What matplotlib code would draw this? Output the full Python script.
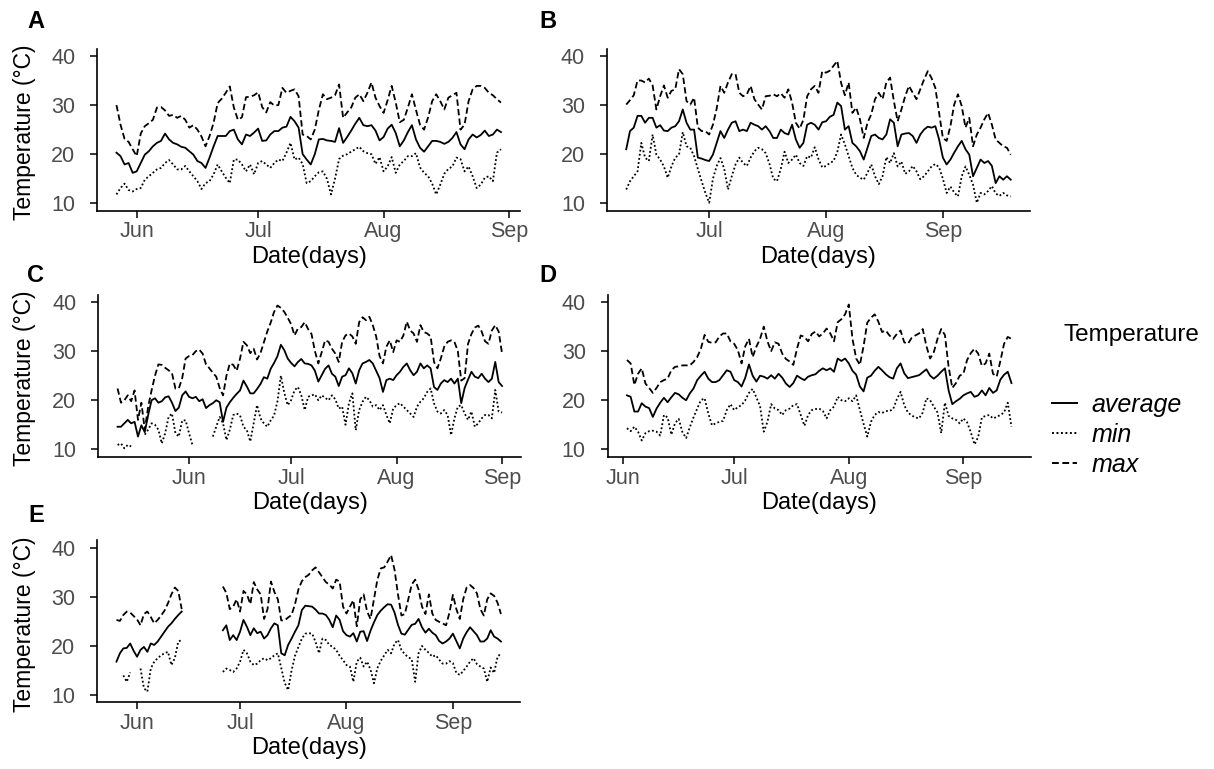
import numpy as np
import pandas as pd
import matplotlib
matplotlib.use('Agg')
import matplotlib.pyplot as plt
import matplotlib.dates as mdates
from matplotlib.lines import Line2D

plt.rcParams['font.family'] = ['Liberation Sans', 'DejaVu Sans']

nan = np.nan

# ---- panel A (daily, from 27 May) ----
a_start = '2021-05-27'
a_avg = [20.3, 19.6, 17.9, 18.2, 16.2, 16.5, 18.2, 19.9, 20.6, 21.6,
         22.3, 22.7, 24.2, 23.0, 22.3, 22.0, 21.5, 21.3, 20.6, 19.9,
         18.6, 18.2, 17.2, 19.3, 21.6, 23.7, 23.7, 23.7, 24.7, 25.0,
         23.0, 22.0, 24.0, 23.7, 24.4, 25.2, 22.7, 22.8, 24.0, 24.7,
         24.7, 25.4, 25.6, 27.6, 26.7, 25.4,
         20.0, 18.9, 17.9, 20.0, 23.0, 23.1, 22.8, 22.7, 22.5, 25.3,
         22.3, 23.5, 24.8, 26.2, 27.4, 25.9, 25.7, 25.9, 24.8, 22.8,
         23.5, 25.2, 26.0, 24.3, 21.6, 22.8, 24.5, 25.9, 23.0, 21.3,
         20.5, 21.6, 22.7, 22.7, 22.5, 22.1, 22.5, 23.3, 24.5, 22.0,
         21.0, 23.0, 24.0, 23.4, 23.9, 24.8, 23.7, 24.0, 25.0, 24.5]
a_min = [11.8, 13.1, 14.0, 12.7, 12.4, 12.9, 13.1, 14.8, 15.5, 16.2,
         16.9, 17.2, 18.2, 18.8, 17.9, 16.9, 16.9, 17.6, 16.5, 15.5,
         14.5, 12.9, 14.1, 14.5, 15.9, 17.9, 16.5, 15.2, 14.1, 18.9,
         18.9, 17.9, 16.5, 17.9, 15.9, 18.2, 18.6, 17.9, 17.2, 18.2,
         18.9, 18.6, 20.3, 22.3, 18.9, 19.3,
         18.0, 14.1, 14.5, 15.5, 16.3, 16.5, 15.0, 11.8, 15.0, 19.0,
         19.7, 20.0, 20.5, 21.0, 21.5, 20.6, 20.2, 20.0, 18.0, 19.4,
         16.5, 17.5, 19.4, 16.2, 17.9, 18.6, 19.6, 19.6, 20.2, 17.3,
         16.2, 15.5, 14.0, 11.8, 13.8, 16.0, 17.0, 17.5, 19.3, 19.0,
         16.5, 17.5, 15.5, 13.1, 13.8, 15.2, 15.5, 14.5, 20.3, 21.0]
a_max = [30.0, 26.0, 23.1, 22.5, 21.0, 19.6, 24.2, 25.7, 26.3, 27.0,
         29.5, 29.6, 28.9, 27.8, 28.0, 27.4, 27.8, 27.0, 25.4, 25.9,
         25.0, 23.6, 21.6, 23.7, 26.4, 30.4, 31.3, 32.5, 33.8, 29.5,
         27.0, 27.5, 31.6, 31.7, 32.0, 32.6, 29.6, 28.5, 30.6, 29.9,
         30.0, 33.5, 32.5, 32.9, 33.2, 31.8,
         24.0, 23.7, 23.0, 25.0, 29.0, 32.2, 31.2, 31.5, 32.0, 34.2,
         27.4, 28.5, 29.5, 31.5, 32.2, 30.8, 32.5, 34.6, 31.5, 29.8,
         28.4, 31.0, 33.9, 30.5, 26.5, 27.0, 29.5, 32.2, 29.0, 26.0,
         25.0, 27.5, 30.8, 32.2, 30.8, 29.1, 31.5, 32.0, 32.5, 25.0,
         26.0, 30.8, 33.2, 33.9, 33.9, 33.5, 32.5, 32.0, 31.2, 30.5]

# ---- panel B (daily, from 9 June) ----
b_start = '2021-06-09'
b_avg = [21.0, 24.7, 25.4, 27.8, 27.8, 26.4, 27.4, 27.4, 25.4, 25.9,
         24.8, 24.7, 25.4, 25.7, 26.7, 29.1, 26.4, 25.0, 25.0, 19.3,
         19.1, 18.8, 18.6, 19.9, 22.3, 24.7, 23.3, 25.0, 26.4, 26.7,
         24.7, 25.0, 24.7, 26.4, 26.0, 25.7, 25.0, 25.7, 24.7, 23.3,
         23.3, 25.0, 24.3, 24.0, 26.0, 23.0, 21.3, 22.3,
         26.0, 26.4, 26.0, 25.0, 26.5, 26.7, 27.6, 28.0, 30.5, 29.8,
         25.0, 25.7, 22.3, 21.6, 20.6, 18.9, 21.3, 23.7, 24.0, 23.3,
         23.0, 24.0, 27.1, 26.4, 21.6, 24.0, 24.2, 24.3, 23.7, 22.3,
         24.0, 25.0, 25.6, 25.4, 25.7, 23.0, 19.3, 17.9, 18.9, 20.3,
         21.6, 22.7, 21.0, 19.9, 15.5, 17.2, 18.9, 18.2, 18.6, 17.6,
         14.1, 15.5, 14.8, 15.5, 14.8]
b_min = [12.8, 14.5, 15.5, 16.5, 22.3, 19.3, 18.6, 24.0, 19.9, 18.9,
         17.5, 15.2, 17.5, 19.3, 19.9, 24.5, 21.6, 21.3, 19.6, 17.0,
         14.5, 12.1, 10.1, 15.0, 17.6, 19.2, 17.0, 12.8, 15.5, 17.9,
         19.3, 18.2, 17.6, 19.3, 20.6, 21.3, 21.0, 20.2, 18.0, 15.0,
         14.5, 17.0, 20.5, 18.2, 18.9, 19.9, 18.2, 17.6,
         19.6, 19.3, 21.4, 19.0, 17.3, 17.6, 18.2, 18.6, 20.5, 24.0,
         22.0, 19.6, 17.2, 15.8, 15.2, 14.8, 16.2, 17.9, 15.5, 13.9,
         15.5, 19.4, 18.2, 20.2, 17.5, 18.5, 16.0, 16.5, 17.6, 16.5,
         14.9, 15.5, 16.5, 17.5, 18.0, 17.3, 15.0, 12.1, 13.4, 12.2,
         11.4, 15.5, 17.5, 15.8, 13.8, 10.1, 12.1, 11.8, 12.5, 13.5,
         12.0, 11.5, 12.1, 11.6, 11.4]
b_max = [30.1, 31.0, 32.0, 35.0, 35.0, 34.6, 35.4, 34.0, 29.1, 31.8,
         34.0, 31.5, 32.9, 33.2, 37.3, 36.3, 30.8, 30.1, 31.5, 25.4,
         24.7, 24.7, 24.0, 26.0, 29.3, 33.9, 32.5, 34.6, 36.3, 36.3,
         32.5, 31.8, 32.2, 33.9, 31.2, 30.1, 29.1, 31.8, 31.9, 32.2,
         31.8, 32.4, 31.5, 33.2, 30.5, 26.4, 25.2, 27.0,
         31.8, 33.2, 33.9, 32.5, 36.9, 36.6, 37.0, 38.0, 39.0, 34.5,
         32.0, 34.6, 28.4, 29.5, 27.1, 23.3, 26.4, 28.1, 31.2, 32.5,
         31.2, 34.6, 35.6, 30.8, 26.7, 29.1, 31.8, 33.9, 32.5, 31.2,
         33.2, 35.2, 36.9, 35.5, 33.5, 28.4, 23.3, 22.7, 25.7, 30.1,
         32.2, 29.8, 25.4, 27.4, 21.6, 24.0, 25.4, 27.1, 28.4, 26.0,
         23.0, 22.3, 21.6, 21.3, 19.9]

# ---- panel C (daily, from 11 May) ----
c_start = '2021-05-11'
c_avg = [14.6, 14.6, 15.3, 16.0, 15.3, 15.6, 12.6, 14.9, 13.5, 17.0,
         20.0, 20.4, 19.5, 19.8, 20.6, 20.8, 19.5, 17.8, 18.5, 21.0,
         21.8, 20.7, 20.4, 20.7, 19.8, 20.2, 18.4, 19.0, 19.4, 20.0,
         19.6, 15.6, 18.5, 19.6, 20.5, 21.3, 22.0, 24.0, 22.8, 21.4,
         21.4, 22.3, 23.3, 24.7, 24.4, 26.4, 27.6, 29.0, 31.3, 30.2,
         28.5, 27.6, 26.9, 27.8, 28.4, 27.5,
         27.4, 27.1, 26.0, 23.8, 25.1, 26.4, 27.1, 25.4, 24.8, 22.9,
         24.8, 25.1, 26.5, 25.5, 23.4, 26.1, 27.5, 27.8, 28.2, 27.5,
         26.0, 24.5, 21.7, 24.1, 24.4, 24.1, 25.1, 25.8, 26.8, 27.5,
         26.1, 25.1, 25.8, 27.5, 26.5, 27.1, 26.5, 22.7, 22.1, 23.4,
         24.1, 23.7, 24.4, 23.4, 24.4, 19.4, 22.5, 24.2, 25.8, 24.8,
         24.5, 25.4, 24.4, 23.7, 24.4, 27.8, 23.7, 22.9]
c_min = [10.9, 11.2, 10.2, 10.9, 10.6, nan, nan, nan, 13.0, 14.0,
         15.3, 15.0, 14.0, 11.2, 13.3, 16.6, 17.3, 13.3, 12.6, 15.9,
         15.9, 13.3, 10.9, nan, nan, nan, nan, nan, 12.6, 14.6,
         16.6, 15.3, 11.9, 14.0, 17.0, 17.3, 16.9, 14.6, 13.9, 11.6,
         15.3, 19.0, 16.3, 15.3, 14.6, 15.9, 16.9, 19.8, 25.0, 21.5,
         19.0, 20.0, 22.0, 22.7, 21.0, 18.0,
         20.7, 21.0, 21.2, 20.0, 21.0, 20.5, 20.0, 21.0, 20.2, 18.3,
         18.7, 15.0, 19.4, 21.4, 13.9, 18.0, 19.7, 20.7, 20.0, 18.7,
         19.0, 18.0, 19.0, 17.0, 15.3, 18.3, 19.0, 19.4, 18.7, 18.0,
         17.3, 16.6, 18.7, 19.7, 20.4, 21.7, 22.4, 19.4, 17.7, 17.3,
         18.0, 17.0, 12.9, 16.3, 18.7, 19.0, 17.3, 16.0, 17.7, 14.6,
         15.3, 16.3, 17.0, 17.0, 16.3, 22.1, 17.7, 17.5]
c_max = [22.4, 19.5, 20.0, 21.0, 19.8, 22.0, 16.0, 19.5, 14.0, 18.7,
         22.0, 25.0, 27.3, 27.2, 26.6, 26.1, 25.5, 22.4, 22.4, 24.5,
         28.5, 29.0, 29.2, 30.0, 30.3, 29.5, 27.3, 26.5, 25.6, 24.8,
         22.5, 21.0, 25.0, 27.5, 27.2, 26.0, 28.5, 31.9, 31.2, 29.6,
         30.5, 28.3, 29.6, 31.8, 34.0, 35.8, 38.0, 39.3, 38.8, 38.0,
         36.8, 35.5, 33.2, 34.6, 34.9, 35.9,
         34.5, 33.5, 30.0, 27.5, 29.8, 32.2, 31.9, 30.5, 29.5, 27.8,
         31.9, 33.2, 33.6, 33.0, 31.5, 35.9, 36.9, 36.3, 37.0, 35.3,
         33.0, 29.0, 27.5, 30.9, 32.2, 29.8, 32.2, 31.9, 33.2, 36.0,
         34.2, 33.6, 31.9, 35.3, 33.9, 33.6, 33.0, 27.8, 26.5, 28.5,
         30.9, 31.9, 32.2, 31.9, 30.0, 24.0, 24.5, 31.5, 33.5, 34.8,
         35.2, 34.0, 32.0, 31.5, 34.2, 35.3, 34.0, 29.5]

# ---- panel D (daily, from 2 June) ----
d_start = '2021-06-02'
d_avg = [21.0, 20.7, 17.7, 17.7, 19.4, 18.7, 18.4, 16.6, 18.3, 19.5,
         20.5, 19.6, 20.6, 21.5, 21.2, 20.5, 20.0, 21.4, 22.4, 24.1,
         25.0, 25.8, 24.4, 23.7, 23.7, 24.1, 25.1, 26.1, 25.8, 24.1,
         23.7, 22.8, 24.6, 27.3, 25.0, 23.8, 25.0, 24.8, 24.4, 25.1,
         24.4, 25.4, 24.6, 23.4, 22.7, 23.5, 25.0, 24.5, 24.1,
         24.8, 25.1, 25.3, 26.0, 26.5, 26.1, 26.5, 25.8, 28.5, 28.0,
         28.5, 27.5, 26.0, 25.2, 22.8, 21.8, 24.6, 25.0, 26.0, 26.8,
         26.1, 25.3, 24.7, 24.4, 26.5, 27.5, 25.5, 24.5, 24.7, 24.9,
         25.1, 25.7, 26.3, 25.0, 24.4, 25.0, 25.8, 26.5, 22.0, 19.2,
         19.8, 20.3, 21.0, 21.4, 21.7, 20.7, 21.0, 22.0, 21.0, 22.5,
         21.5, 22.0, 24.2, 25.2, 25.8, 23.5]
d_min = [14.3, 13.7, 14.6, 13.6, 11.8, 13.3, 13.7, 13.8, 13.6, 12.8,
         17.0, 16.5, 13.0, 15.3, 16.2, 13.5, 12.3, 14.5, 16.5, 18.3,
         20.0, 20.4, 17.3, 14.9, 15.3, 15.6, 15.8, 18.0, 19.2, 18.0,
         18.6, 19.0, 20.0, 21.5, 22.3, 20.6, 18.8, 13.6, 15.6, 19.2,
         18.3, 18.0, 17.0, 18.0, 18.3, 19.0, 19.2, 17.0, 14.8,
         17.0, 18.0, 18.2, 18.3, 17.8, 16.3, 18.0, 18.7, 20.7, 20.0,
         19.8, 20.4, 19.8, 21.0, 18.0, 15.2, 12.6, 15.6, 17.0, 17.6,
         17.4, 17.8, 17.8, 18.2, 20.2, 21.7, 19.0, 17.5, 16.9, 16.5,
         16.3, 17.5, 20.4, 20.0, 18.7, 17.5, 13.3, 19.5, 16.8, 16.3,
         16.0, 15.3, 16.3, 15.5, 13.5, 11.0, 12.5, 16.5, 16.8, 17.0,
         16.3, 16.6, 17.0, 17.5, 19.5, 14.6]
d_max = [28.2, 27.5, 23.1, 25.4, 26.5, 23.4, 22.5, 21.5, 22.5, 23.7,
         24.1, 24.4, 26.1, 26.8, 26.9, 27.1, 27.1, 27.1, 27.8, 28.8,
         30.5, 33.3, 31.9, 31.7, 31.8, 33.0, 33.6, 33.6, 32.0, 31.5,
         30.2, 27.5, 31.0, 32.5, 28.8, 30.9, 32.5, 35.0, 32.0, 30.0,
         31.8, 31.5, 29.5, 28.4, 27.9, 27.2, 30.5, 33.2, 32.9,
         32.0, 33.5, 34.0, 33.0, 33.6, 34.6, 33.6, 32.0, 35.9, 36.5,
         37.5, 39.5, 32.5, 28.5, 27.2, 31.0, 35.8, 36.8, 37.5, 36.0,
         33.9, 34.2, 33.2, 32.5, 33.5, 34.2, 31.8, 31.5, 32.7, 33.2,
         33.6, 34.5, 31.0, 28.5, 29.8, 32.5, 34.5, 33.3, 26.8, 22.5,
         23.5, 25.0, 25.4, 28.2, 29.6, 30.5, 29.5, 27.0, 27.5, 29.5,
         25.4, 24.8, 28.0, 31.5, 32.9, 32.5]

# ---- panel E (daily, from 26 May; no records 14-24 June) ----
e_start = '2021-05-26'
e_avg = [16.8, 18.5, 19.5, 19.6, 20.5, 19.0, 17.8, 19.2, 19.8, 18.8,
         20.5, 20.2, 20.9, 21.9, 22.9, 23.9, 24.6, 25.5, 26.3, 27.0,
         nan, nan, nan, nan, nan, nan, nan, nan, nan, nan, nan,
         23.2, 24.2, 21.2, 22.2, 21.2, 22.9, 25.3, 23.9, 22.2, 23.6,
         22.6, 22.9, 21.5, 22.2, 23.6, 24.6, 24.2, 18.5, 18.1, 20.2,
         21.5, 22.9, 24.2, 27.3,
         28.2, 28.1, 28.0, 27.4, 26.6, 26.6, 26.3, 25.3, 23.8, 26.2,
         25.3, 23.0, 22.2, 21.9, 22.6, 20.9, 22.9, 23.0, 21.0, 23.1,
         24.8, 26.3, 27.2, 27.9, 28.5, 28.4, 26.8, 24.3, 22.5, 22.3,
         23.3, 24.3, 24.5, 25.5, 23.8, 22.7, 23.5, 22.7, 22.2, 21.0,
         20.5, 20.9, 21.5, 22.5, 21.0, 19.5, 21.5, 22.8, 23.8, 23.0,
         22.2, 20.9, 20.9, 21.5, 23.2, 21.9, 21.5, 20.9]
e_min = [nan, nan, 14.0, 12.7, 14.6, nan, nan, 15.4, 11.4, 10.7,
         15.4, 16.8, 17.5, 18.1, 18.5, 18.8, 16.1, 17.5, 20.9, 21.2,
         nan, nan, nan, nan, nan, nan, nan, nan, nan, nan, nan,
         14.7, 15.4, 15.1, 14.7, 15.4, 16.8, 19.2, 18.5, 16.8, 16.1,
         16.4, 17.1, 17.5, 17.1, 17.5, 18.1, 18.5, 15.5, 12.5, 11.0,
         15.0, 18.0, 19.8, 21.5,
         22.5, 22.6, 22.5, 20.8, 18.5, 21.5, 21.2, 20.2, 19.8, 19.2,
         18.0, 17.1, 16.1, 15.8, 12.7, 16.8, 17.6, 15.8, 16.8, 15.2,
         12.4, 15.5, 17.0, 18.1, 19.2, 18.5, 20.5, 21.2, 19.2, 18.3,
         17.7, 17.3, 12.7, 18.5, 20.0, 19.2, 18.6, 17.8, 18.1, 17.2,
         16.4, 16.4, 16.9, 16.5, 14.5, 14.1, 14.9, 15.8, 16.8, 17.5,
         16.3, 15.8, 15.4, 12.7, 15.6, 14.5, 17.8, 18.5]
e_max = [25.3, 25.1, 26.3, 27.0, 26.8, 26.1, 25.4, 24.2, 26.5, 27.0,
         25.9, 24.6, 25.3, 26.2, 27.2, 28.7, 30.5, 31.9, 31.2, 27.5,
         nan, nan, nan, nan, nan, nan, nan, nan, nan, nan, nan,
         32.1, 30.8, 27.5, 28.0, 29.5, 27.0, 31.2, 30.5, 28.5, 33.0,
         31.5, 30.5, 25.5, 27.5, 33.1, 31.0, 29.5, 25.2, 25.2, 25.8,
         26.3, 28.5, 31.5, 33.2,
         34.0, 34.5, 35.4, 36.0, 35.0, 34.0, 33.0, 32.5, 31.7, 33.5,
         33.1, 28.0, 26.6, 28.0, 29.3, 24.0, 29.5, 30.5, 27.0, 25.5,
         29.5, 33.5, 35.8, 36.0, 37.2, 38.5, 35.5, 30.5, 26.2, 26.5,
         29.5, 32.5, 33.5, 31.5, 28.0, 26.5, 30.5, 26.6, 25.3, 24.9,
         24.6, 24.2, 26.8, 30.4, 27.5, 25.5, 29.5, 31.9, 32.4, 31.8,
         30.7, 27.5, 26.2, 29.5, 30.7, 30.2, 28.8, 26.5]

series_labels = ['average', 'min', 'max']
styles = {'average': '-', 'min': (0, (1, 1.3)), 'max': (0, (3.5, 1.8))}

# letter, start, avg, min, max, axes rect, y-title?, letter y (px from top)
panels = [
    ('A', a_start, a_avg, a_min, a_max, [0.0801, 0.7261, 0.3484, 0.2107], True, 21),
    ('B', b_start, b_avg, b_min, b_max, [0.5000, 0.7261, 0.3484, 0.2107], False, 21),
    ('C', c_start, c_avg, c_min, c_max, [0.0810, 0.4061, 0.3484, 0.2107], True, 276),
    ('D', d_start, d_avg, d_min, d_max, [0.5006, 0.4061, 0.3484, 0.2107], False, 276),
    ('E', e_start, e_avg, e_min, e_max, [0.0801, 0.0866, 0.3484, 0.2107], True, 516),
]

W, H = 1214, 769
fig = plt.figure(figsize=(W / 100, H / 100), dpi=100)

for letter, start, avg, mn, mx, rect, ylab, ly in panels:
    ax = fig.add_axes(rect)
    dates = pd.date_range(start, periods=len(avg), freq='D')
    for name, vals in zip(series_labels, [avg, mn, mx]):
        ax.plot(dates, vals, color='black', lw=1.3, ls=styles[name])
    ax.set_ylim(8.5, 41.5)
    ax.set_yticks([10, 20, 30, 40])
    ax.margins(x=0.05)
    ax.xaxis.set_major_locator(mdates.MonthLocator())
    ax.xaxis.set_major_formatter(mdates.DateFormatter('%b'))
    for s in ['top', 'right']:
        ax.spines[s].set_visible(False)
    for s in ['left', 'bottom']:
        ax.spines[s].set_linewidth(1.2)
    ax.tick_params(axis='both', direction='out', length=4.8, width=1.1,
                   labelsize=15.5, labelcolor='#4d4d4d')
    ax.tick_params(axis='y', pad=11)
    ax.tick_params(axis='x', pad=3)

    x0, y0, w, h = rect
    fig.text(x0 + w / 2, y0 - 46 / H, 'Date(days)', ha='center', va='center', fontsize=17)
    if ylab:
        fig.text(25 / W, y0 + h / 2 - 3 / H, 'Temperature (°C)', rotation=90,
                 ha='center', va='center', fontsize=16.5)
    lx = 36 / W if x0 < 0.3 else 548 / W
    fig.text(lx, 1 - ly / H, letter, ha='center', va='center',
             fontsize=17, fontweight='bold')

# legend
fig.text(1063 / W, 1 - 335 / H, 'Temperature', ha='left', va='center', fontsize=17.5)
handles = [Line2D([], [], color='black', lw=1.4, ls=styles[n]) for n in series_labels]
fig.legend(handles, series_labels, loc='upper left', bbox_to_anchor=(1029 / W, 1 - 370 / H),
           frameon=False, handlelength=1.0, handletextpad=0.6, labelspacing=0.25,
           prop={'style': 'italic', 'size': 18})

fig.savefig('out.png', dpi=100)
